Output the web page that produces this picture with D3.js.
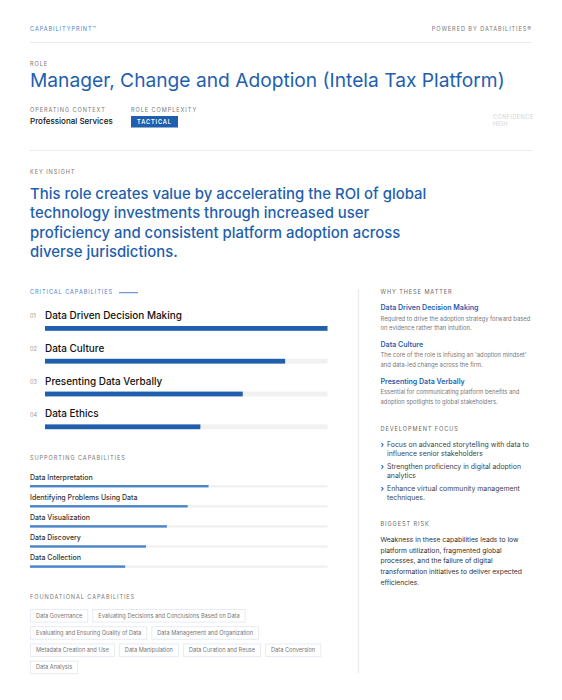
<!DOCTYPE html>
<html>
<head>
<meta charset="utf-8">
<script src="https://d3js.org/d3.v7.min.js"></script>
<style>
html,body{margin:0;padding:0;background:#fff;}
svg{display:block;font-family:Inter,"Noto Sans",sans-serif;}
</style>
</head>
<body>
<div id="chart"></div>
<script>
//chart data
var criticalNames = ["Data Driven Decision Making","Data Culture","Presenting Data Verbally","Data Ethics"];
var criticalValues = [100,85,70,55];
var supportingNames = ["Data Interpretation","Identifying Problems Using Data","Data Visualization","Data Discovery","Data Collection"];
var supportingValues = [60,53,46,39,32];
var foundationalNames = ["Data Governance","Evaluating Decisions and Conclusions Based on Data","Evaluating and Ensuring Quality of Data","Data Management and Organization","Metadata Creation and Use","Data Manipulation","Data Curation and Reuse","Data Conversion","Data Analysis"];
var insightLines = ["This role creates value by accelerating the ROI of global","technology investments through increased user","proficiency and consistent platform adoption across","diverse jurisdictions."];
var whyTitles = ["Data Driven Decision Making","Data Culture","Presenting Data Verbally"];
var whyLines = [["Required to drive the adoption strategy forward based","on evidence rather than intuition."],["The core of the role is infusing an 'adoption mindset'","and data-led change across the firm."],["Essential for communicating platform benefits and","adoption spotlights to global stakeholders."]];
var focusLines = [["Focus on advanced storytelling with data to","influence senior stakeholders"],["Strengthen proficiency in digital adoption","analytics"],["Enhance virtual community management","techniques."]];
var riskLines = ["Weakness in these capabilities leads to low","platform utilization, fragmented global","processes, and the failure of digital","transformation initiatives to deliver expected","efficiencies."];

var blue = "#1f5fae", midBlue = "#4a84c9", track = "#f1f1f1", rule = "#e6ecf2";

var svg = d3.select("#chart").append("svg").attr("width",562).attr("height",700);

//text helper
function label(x,y,str,size,color,opts){
    opts = opts || {};
    return svg.append("text")
        .attr("x",x).attr("y",y)
        .attr("font-size",size)
        .attr("fill",color)
        .attr("font-weight",opts.weight || 400)
        .attr("letter-spacing",opts.spacing || 0)
        .attr("text-anchor",opts.anchor || "start")
        .text(str);
}
function caps(x,y,str,color,opts){
    opts = Object.assign({spacing:0.92},opts);
    return label(x,y,str,5.6,color,opts);
}
function hline(x1,x2,y){
    svg.append("line").attr("x1",x1).attr("x2",x2).attr("y1",y).attr("y2",y).attr("stroke",rule).attr("stroke-width",1);
}

//header
caps(30,31,"CAPABILITYPRINT\u2122",midBlue);
caps(532,31,"POWERED BY DATABILITIES\u00ae","#777",{anchor:"end"});
hline(30,532,42.5);
caps(30,66,"ROLE","#777");
label(30,87,"Manager, Change and Adoption (Intela Tax Platform)",19.2,blue);
caps(30,112,"OPERATING CONTEXT","#777");
label(30,124,"Professional Services",8,"#111",{weight:500});
caps(131,111.5,"ROLE COMPLEXITY","#777");
svg.append("rect").attr("x",131).attr("y",116).attr("width",47).attr("height",11.5).attr("fill",blue);
caps(154.5,124,"TACTICAL","#fff",{anchor:"middle",weight:600,spacing:0.9});
caps(493,118.8,"CONFIDENCE","#d4d4d4",{spacing:0.4});
label(493,125.5,"HIGH",5.8,"#d4d4d4");
hline(30,532,150.5);

//key insight
caps(30,174,"KEY INSIGHT","#777");
insightLines.forEach(function(d,i){
    label(30,199+i*19.4,d,14.9,blue,{weight:500});
});

//critical capabilities
var criticalX = d3.scaleLinear().domain([0,100]).range([45,327.5]);
var criticalY = d3.scaleBand().domain(criticalNames).range([306,437.2]);
caps(30,294,"CRITICAL CAPABILITIES",midBlue);
svg.append("line").attr("x1",119).attr("x2",138).attr("y1",292.7).attr("y2",292.7).attr("stroke",midBlue).attr("stroke-width",1);
criticalNames.forEach(function(d,i){
    var top = criticalY(d);
    label(30,top+12.2,"0"+(i+1),5.6,"#999");
    label(45,top+13,d,9.95,"#111",{weight:500});
    svg.append("rect").attr("x",criticalX(0)).attr("y",top+20).attr("width",criticalX(100)-criticalX(0)).attr("height",4.8).attr("fill",track);
    svg.append("rect").attr("x",criticalX(0)).attr("y",top+20).attr("width",criticalX(criticalValues[i])-criticalX(0)).attr("height",4.8).attr("fill",blue);
});

//supporting capabilities
var supportX = d3.scaleLinear().domain([0,100]).range([30,327.5]);
var supportY = d3.scaleBand().domain(supportingNames).range([470,570.5]);
caps(30,460,"SUPPORTING CAPABILITIES","#777");
supportingNames.forEach(function(d,i){
    var top = supportY(d);
    label(30,top+10,d,7,"#333",{weight:500});
    svg.append("rect").attr("x",supportX(0)).attr("y",top+15).attr("width",supportX(100)-supportX(0)).attr("height",2.4).attr("fill",track);
    svg.append("rect").attr("x",supportX(0)).attr("y",top+15).attr("width",supportX(supportingValues[i])-supportX(0)).attr("height",2.4).attr("fill",midBlue);
});

//foundational capabilities, chips flow and wrap like inline blocks
caps(30,599,"FOUNDATIONAL CAPABILITIES","#777");
var chipX = 30, chipRow = 0;
foundationalNames.forEach(function(d){
    var t = label(0,0,d,5.65,"#777");
    var w = t.node().getComputedTextLength()+12;
    if (chipX+w > 328){ chipX = 30; chipRow++; }
    var y = 609+chipRow*17.2;
    svg.append("rect").attr("x",chipX+0.5).attr("y",y+0.5).attr("width",w-1).attr("height",12.6).attr("fill","none").attr("stroke",rule);
    t.attr("x",chipX+6).attr("y",y+8.8);
    chipX += w+4;
});

//right column
svg.append("line").attr("x1",358.5).attr("x2",358.5).attr("y1",289).attr("y2",673).attr("stroke",rule).attr("stroke-width",1.2);
caps(380.5,294,"WHY THESE MATTER","#666");
whyTitles.forEach(function(d,i){
    var y = 310+i*36.8;
    label(380.5,y,d,7.05,blue,{weight:600});
    whyLines[i].forEach(function(l,j){
        label(380.5,y+10.5+j*9.5,l,5.87,"#777");
    });
});
caps(380.5,431,"DEVELOPMENT FOCUS","#666");
focusLines.forEach(function(d,i){
    var y = 447+i*22;
    label(380.5,y,"\u203a",8,blue,{weight:700});
    d.forEach(function(l,j){
        label(387,y+j*9.2,l,6.9,"#444");
    });
});
caps(380.5,526,"BIGGEST RISK","#666");
riskLines.forEach(function(d,i){
    label(380.5,542+i*10.7,d,6.75,"#333");
});
</script>
</body>
</html>
